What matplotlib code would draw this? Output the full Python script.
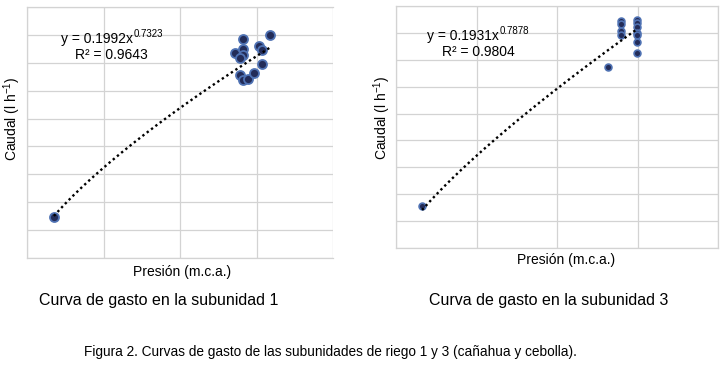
import numpy as np
import matplotlib
matplotlib.use("Agg")
import matplotlib.pyplot as plt

plt.rcParams['font.family'] = ['Liberation Sans', 'DejaVu Sans']
plt.rcParams['mathtext.fontset'] = 'custom'
plt.rcParams['mathtext.rm'] = 'Liberation Sans'
plt.rcParams['mathtext.it'] = 'Liberation Sans'
plt.rcParams['mathtext.default'] = 'regular'

# ---- data (axes 0-20 m.c.a., 0-1.8 l/h) ----
x1 = [1.76, 14.10, 13.59, 14.10, 14.10, 13.92, 15.16, 15.34, 15.88, 15.34, 13.92, 14.10, 14.46, 14.84]
y1 = [0.296, 1.568, 1.472, 1.497, 1.456, 1.432, 1.520, 1.492, 1.599, 1.389, 1.312, 1.276, 1.281, 1.329]
a1, b1 = 0.1992, 0.7323
eq1_main, eq1_exp = "y = 0.1992x", "0.7323"
r2_1 = "R² = 0.9643"

x3 = [1.62, 13.19, 13.98, 13.98, 13.98, 13.98, 14.94, 14.94, 14.94, 14.94, 14.94, 14.94, 14.94]
y3 = [0.312, 1.344, 1.688, 1.666, 1.614, 1.584, 1.696, 1.670, 1.644, 1.599, 1.581, 1.529, 1.450]
a3, b3 = 0.1931, 0.7878
eq3_main, eq3_exp = "y = 0.1931x", "0.7878"
r2_3 = "R² = 0.9804"

xlim = (0, 20)
ylim = (0, 1.8)
xticks = [0, 5, 10, 15, 20]
yticks = [0, 0.2, 0.4, 0.6, 0.8, 1.0, 1.2, 1.4, 1.6, 1.8]

xlabel = "Presión (m.c.a.)"
ylabel = "Caudal (l h$^{-1}$)"
cap1 = "Curva de gasto en la subunidad 1"
cap3 = "Curva de gasto en la subunidad 3"
figcap = "Figura 2. Curvas de gasto de las subunidades de riego 1 y 3 (cañahua y cebolla)."

W, H = 724, 365
fig = plt.figure(figsize=(W / 100, H / 100), dpi=100)
fig.patch.set_facecolor('white')


def px(x, y):
    return x / W, 1 - y / H


grid_c = '#d3d3d3'


def make_ax(left, top, right, bottom, xs, ys, a, b, ms, lw_e, eqm, eqe, r2, eq_end, eq_base, r2_cx, hide_right):
    ax = fig.add_axes([left / W, 1 - bottom / H, (right - left) / W, (bottom - top) / H])
    ax.set_xlim(*xlim)
    ax.set_ylim(*ylim)
    ax.set_xticks(xticks)
    ax.set_yticks(yticks)
    ax.tick_params(length=0, labelleft=False, labelbottom=False)
    ax.grid(True, color=grid_c, lw=0.9)
    ax.set_axisbelow(True)
    for s, sp in ax.spines.items():
        sp.set_color(grid_c)
        sp.set_linewidth(0.9)
    if hide_right:
        ax.spines['right'].set_visible(False)
    ax.scatter(xs, ys, s=ms, facecolor='#232c58', edgecolor='#4f72b3', linewidths=lw_e, zorder=3)
    xx = np.linspace(min(xs), max(xs), 300)
    ax.plot(xx, a * xx ** b, color='black', lw=1.7, linestyle=(0, (1, 1.3)), zorder=4)
    fig.text(*px(eq_end, eq_base), eqm, ha='right', va='baseline', fontsize=10)
    fig.text(*px(eq_end + 1, eq_base - 6), eqe, ha='left', va='baseline', fontsize=7)
    fig.text(*px(r2_cx, eq_base + 16), r2, ha='center', va='baseline', fontsize=10)
    return ax


make_ax(27, 7, 333, 258, x1, y1, a1, b1, 42, 1.3, eq1_main, eq1_exp, r2_1, 133, 43, 111, True)
make_ax(396, 6, 718, 248, x3, y3, a3, b3, 24, 1.2, eq3_main, eq3_exp, r2_3, 499, 40, 478, False)

fig.text(*px(12, 119), ylabel, rotation=90, ha='center', va='center', fontsize=10)
fig.text(*px(382, 118), ylabel, rotation=90, ha='center', va='center', fontsize=10)
fig.text(*px(182, 272), xlabel, ha='center', va='center', fontsize=10)
fig.text(*px(566, 260), xlabel, ha='center', va='center', fontsize=10)

fig.text(*px(159, 300), cap1, ha='center', va='center', fontsize=11.5)
fig.text(*px(549, 300), cap3, ha='center', va='center', fontsize=11.5)
fig.text(*px(330, 352), figcap, ha='center', va='center', fontsize=9.8)

fig.savefig('out.png', dpi=100, facecolor='white')
